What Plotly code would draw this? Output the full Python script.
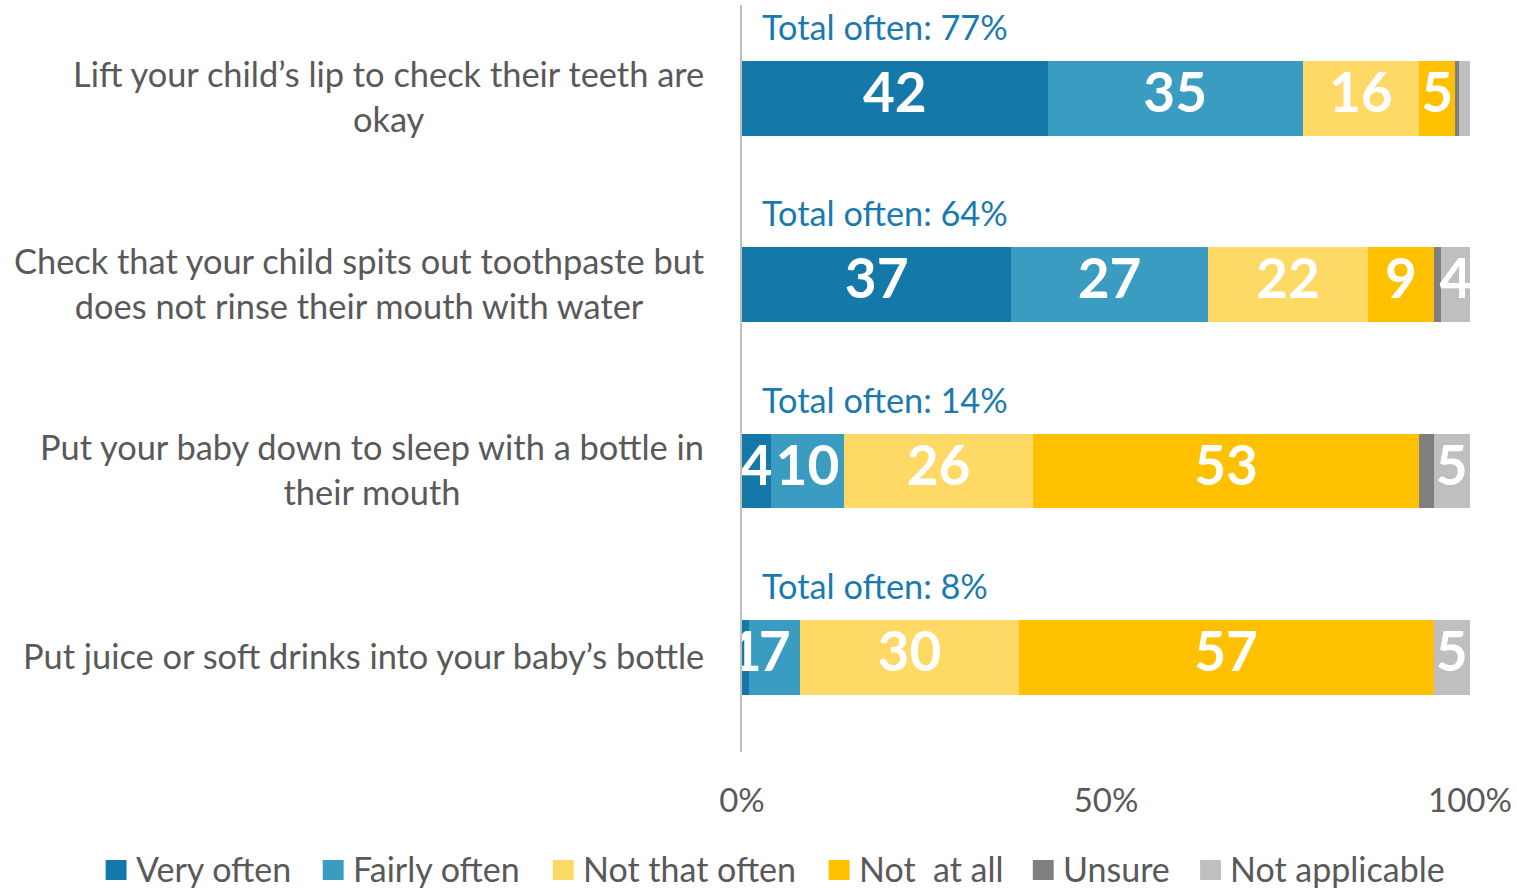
import plotly.graph_objects as go

# ---- data -------------------------------------------------------------
categories = [
    "Lift your child\u2019s lip to check their teeth are<br>okay",
    "Check that your child spits out toothpaste but<br>does not rinse their mouth with water",
    "Put your baby down to sleep with a bottle in<br>their mouth",
    "Put juice or soft drinks into your baby\u2019s bottle",
]
very_often = [42, 37, 4, 1]
fairly_often = [35, 27, 10, 7]
not_that_often = [16, 22, 26, 30]
not_at_all = [5, 9, 53, 57]
unsure = [0.5, 1, 2, 0]
not_applicable = [1.5, 4, 5, 5]

series_names = ["Very often", "Fairly often", "Not that often", "Not\u00a0 at all",
                "Unsure", "Not applicable"]
series_values = [very_often, fairly_often, not_that_often, not_at_all, unsure, not_applicable]
series_colors = ["#1479a9", "#3a9cc1", "#ffd966", "#ffc000", "#7f7f7f", "#bfbfbf"]

# segments that carry no value label
unlabelled_series = {"Unsure"}
unlabelled_points = {("Not applicable", 0)}

x_tickvals = [0, 50, 100]
x_ticktext = ["0%", "50%", "100%"]

# ---- layout geometry --------------------------------------------------
W, H = 1517, 889
PLOT_L, PLOT_R, PLOT_T, PLOT_B = 742, 1473, 5, 752


def px_x(px):
    return (px - PLOT_L) / (PLOT_R - PLOT_L)


def px_y(py):
    return (PLOT_B - py) / (PLOT_B - PLOT_T)


FONT = "Lato, 'Open Sans', sans-serif"
GREY_TEXT = "#595959"
BLUE_TEXT = "#1a7ab0"

fig = go.Figure()

# stacked bars
for name, vals, col in zip(series_names, series_values, series_colors):
    fig.add_trace(go.Bar(
        y=categories, x=vals, name=name, orientation="h",
        marker=dict(color=col, line=dict(width=0)),
        showlegend=False, hoverinfo="x+name",
    ))

# value labels centred on each segment, drawn above all bars
lab_x, lab_y, lab_t = [], [], []
for i, cat in enumerate(categories):
    start = 0.0
    for name, vals in zip(series_names, series_values):
        v = vals[i]
        if v > 0 and name not in unlabelled_series and (name, i) not in unlabelled_points:
            lab_x.append(start + v / 2)
            lab_y.append(cat)
            lab_t.append(f"{v:g}")
        start += v
fig.add_trace(go.Scatter(
    x=lab_x, y=lab_y, text=lab_t, mode="text",
    textposition="middle center",
    textfont=dict(family=FONT, size=55, color="white", weight="bold"),
    showlegend=False, hoverinfo="skip", cliponaxis=True,
))

annotations = []
# category labels, centred lines, right edge next to the axis
for cat in categories:
    annotations.append(dict(
        x=0, xref="paper", y=cat, yref="y", xshift=-36, yshift=2,
        xanchor="right", yanchor="middle", align="center",
        text=cat, showarrow=False,
        font=dict(family=FONT, size=34.4, color=GREY_TEXT),
    ))

# "Total often" above each bar
for i, cat in enumerate(categories):
    total = very_often[i] + fairly_often[i]
    annotations.append(dict(
        x=0, xref="x", y=cat, yref="y", xshift=18, yshift=72,
        xanchor="left", yanchor="middle",
        text=f"Total often: {total:g}%", showarrow=False,
        font=dict(family=FONT, size=34.3, color=BLUE_TEXT),
    ))

# legend drawn as coloured squares with labels along the bottom
legend_px = [103, 321, 552, 829, 1034, 1202]
shapes = []
for name, col, lx in zip(series_names, series_colors, legend_px):
    shapes.append(dict(
        type="rect", xref="paper", yref="paper",
        x0=px_x(lx), x1=px_x(lx + 21), y0=px_y(880), y1=px_y(860),
        fillcolor=col, line=dict(width=0),
    ))
    annotations.append(dict(
        x=px_x(lx + 28), xref="paper", y=px_y(868), yref="paper",
        xanchor="left", yanchor="middle", text=name, showarrow=False,
        font=dict(family=FONT, size=34, color=GREY_TEXT),
    ))

fig.update_layout(
    width=W, height=H,
    margin=dict(l=PLOT_L, r=W - PLOT_R, t=PLOT_T, b=H - PLOT_B, pad=0),
    barmode="stack", bargap=0.6,
    plot_bgcolor="white", paper_bgcolor="white",
    annotations=annotations, shapes=shapes,
    showlegend=False,
    xaxis=dict(
        range=[0, 100], tickvals=x_tickvals, ticktext=x_ticktext,
        showgrid=False, zeroline=False, showline=False, ticks="",
        tickfont=dict(family=FONT, size=33, color=GREY_TEXT),
        ticklabelstandoff=26, fixedrange=True,
    ),
    yaxis=dict(
        categoryorder="array", categoryarray=categories, autorange="reversed",
        showticklabels=False, showgrid=False, zeroline=False,
        showline=True, linecolor="#bfbfbf", linewidth=2, ticks="",
        fixedrange=True,
    ),
)

fig.write_html("out.html")
